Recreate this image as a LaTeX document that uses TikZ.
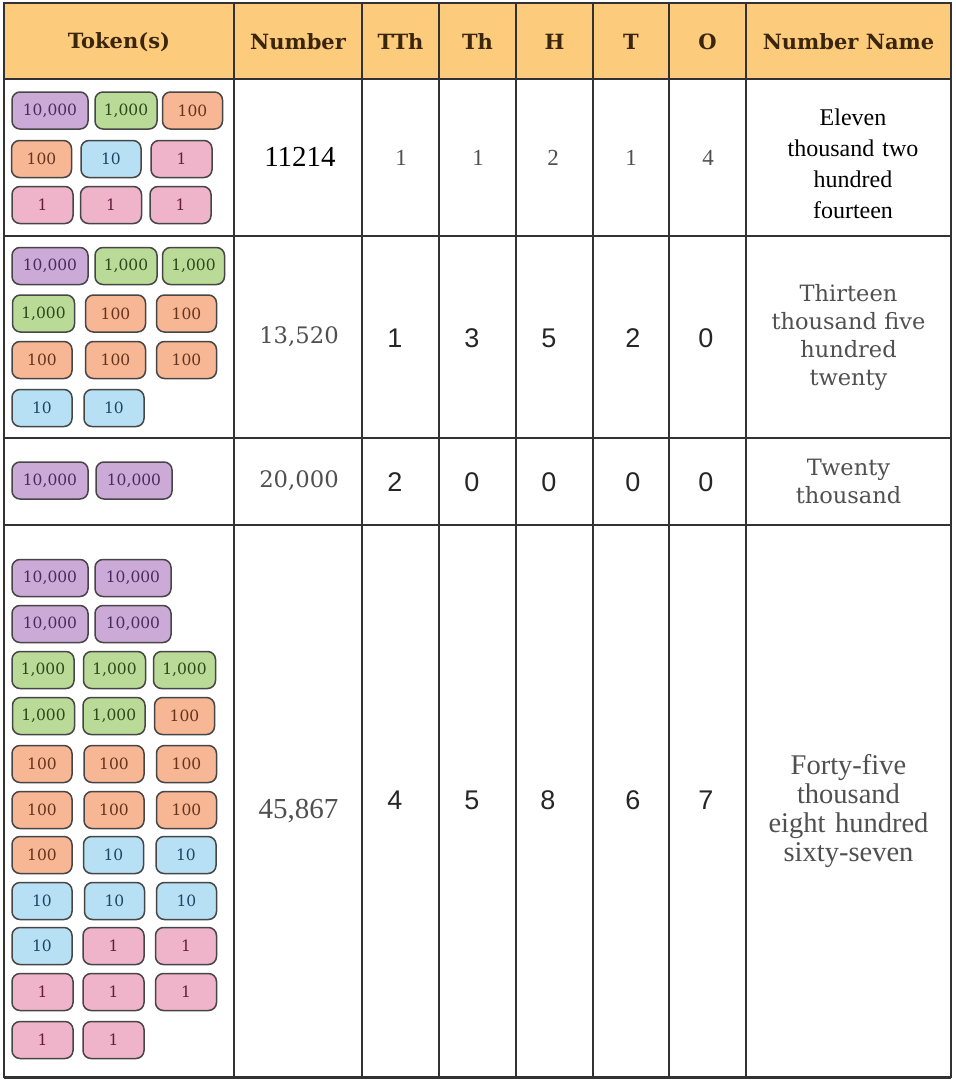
\documentclass[tikz,border=0pt]{standalone}
\usepackage{fontspec}
\setmainfont{Liberation Serif}
\newfontfamily\dvserif{DejaVu Serif}
\newfontfamily\lsans{Liberation Sans}
\definecolor{hdrfill}{RGB}{253,203,124}
\definecolor{hdrtext}{RGB}{58,38,14}
\definecolor{gridline}{RGB}{50,50,50}
\definecolor{chipline}{RGB}{70,70,70}
\definecolor{purpfill}{RGB}{204,170,216}
\definecolor{purptext}{RGB}{72,44,92}
\definecolor{grnfill}{RGB}{186,219,152}
\definecolor{grntext}{RGB}{44,72,28}
\definecolor{orfill}{RGB}{247,182,148}
\definecolor{ortext}{RGB}{100,52,28}
\definecolor{blfill}{RGB}{184,224,244}
\definecolor{bltext}{RGB}{28,70,100}
\definecolor{pkfill}{RGB}{240,180,202}
\definecolor{pktext}{RGB}{100,30,60}
\definecolor{graytext}{RGB}{80,80,80}
\tikzset{
  chip/.style={draw=chipline, line width=1.5pt, rounded corners=8pt, minimum height=37pt, inner sep=0pt, font=\dvserif\fontsize{15.5}{17}\selectfont},
  tokP/.style={chip, fill=purpfill, text=purptext, minimum width=76pt, node contents={10,000}},
  tokG/.style={chip, fill=grnfill, text=grntext, minimum width=62pt, node contents={1,000}},
  tokO/.style={chip, fill=orfill, text=ortext, minimum width=60pt, node contents={100}},
  tokB/.style={chip, fill=blfill, text=bltext, minimum width=60pt, node contents={10}},
  tokK/.style={chip, fill=pkfill, text=pktext, minimum width=61pt, node contents={1}},
  hdr/.style={font=\dvserif\bfseries\fontsize{21}{24}\selectfont, text=hdrtext, inner sep=0pt},
  grid/.style={draw=gridline, line width=1.8pt},
  numA/.style={font=\fontsize{29}{31}\selectfont, text=black, inner sep=0pt},
  digA/.style={font=\fontsize{23}{25}\selectfont, text=graytext, inner sep=0pt},
  nameA/.style={font=\fontsize{24}{31}\selectfont, align=center, text width=200pt, inner sep=0pt},
  numB/.style={font=\dvserif\fontsize{22.7}{25}\selectfont, text=graytext, inner sep=0pt},
  digB/.style={font=\lsans\fontsize{27}{29}\selectfont, text=black!85, inner sep=0pt},
  nameB/.style={font=\dvserif\fontsize{22.5}{28}\selectfont, text=graytext, align=center, text width=200pt, inner sep=0pt},
  numC/.style={font=\fontsize{29}{31}\selectfont, text=graytext, inner sep=0pt},
  nameC/.style={font=\fontsize{28.5}{29}\selectfont, text=graytext, align=center, text width=200pt, inner sep=0pt}
}
\begin{document}
\begin{tikzpicture}[x=1pt,y=-1pt]
\useasboundingbox (0,0) rectangle (956,1080);
\fill[white] (0,0) rectangle (956,1080);
% header band
\fill[hdrfill] (4,3) rectangle (951,79);
% grid
\draw[grid] (4,3) rectangle (951,1077);
\draw[grid] (4,79) -- (951,79);
\draw[grid] (4,236) -- (951,236);
\draw[grid] (4,438) -- (951,438);
\draw[grid] (4,525) -- (951,525);
\draw[grid, line width=3pt] (4,1077) -- (951,1077);
\foreach \cx in {234,362,439,516,593,669,746} \draw[grid] (\cx,3) -- (\cx,1077);
% header
\node[hdr] (hTok) at (119,42) {Token(s)};
\node[hdr] (hNum) at (298,42) {Number};
\node[hdr] (hTTh) at (400.5,42) {TTh};
\node[hdr] (hTh) at (477.5,42) {Th};
\node[hdr] (hH) at (554.5,42) {H};
\node[hdr] (hT) at (631,42) {T};
\node[hdr] (hO) at (707.5,42) {O};
\node[hdr] (hName) at (848.5,42) {Number Name};
% row 1 tokens
\node (a1) at (50,110.5) [tokP];
\node (a2) at (126,110.5) [tokG];
\node (a3) at (192.5,110.5) [tokO];
\node (a4) at (41.5,159) [tokO];
\node (a5) at (111,159) [tokB];
\node (a6) at (181.5,159) [tokK];
\node (a7) at (42.5,205) [tokK];
\node (a8) at (111,205) [tokK];
\node (a9) at (180.5,205) [tokK];
% row 1 values
\node[numA] (n1) at (300,157) {11214};
\node[digA] (d11) at (401,158) {1};
\node[digA] (d12) at (478,158) {1};
\node[digA] (d13) at (553,158) {2};
\node[digA] (d14) at (631,158) {1};
\node[digA] (d15) at (708,158) {4};
\node[nameA] (m1) at (853,164) {Eleven\\thousand two\\hundred\\fourteen};
% row 2 tokens
\node (b1) at (50,266) [tokP];
\node (b2) at (126,266) [tokG];
\node (b3) at (193.5,266) [tokG];
\node (b4) at (43.5,313.5) [tokG];
\node (b5) at (115.5,313.5) [tokO];
\node (b6) at (186.5,313.5) [tokO];
\node (b7) at (42,360) [tokO];
\node (b8) at (115.5,360) [tokO];
\node (b9) at (186.5,360) [tokO];
\node (b10) at (42,408) [tokB];
\node (b11) at (114,408) [tokB];
% row 2 values
\node[numB] (n2) at (299,337) {13,520};
\node[digB] (d21) at (395,338) {1};
\node[digB] (d22) at (472,338) {3};
\node[digB] (d23) at (549,338) {5};
\node[digB] (d24) at (633,338) {2};
\node[digB] (d25) at (706,338) {0};
\node[nameB] (m2) at (848.5,337) {Thirteen\\thousand five\\hundred\\twenty};
% row 3 tokens
\node (c1) at (50,480.5) [tokP];
\node (c2) at (134,480.5) [tokP];
% row 3 values
\node[numB] (n3) at (299,481) {20,000};
\node[digB] (d31) at (395,482) {2};
\node[digB] (d32) at (472,482) {0};
\node[digB] (d33) at (549,482) {0};
\node[digB] (d34) at (633,482) {0};
\node[digB] (d35) at (706,482) {0};
\node[nameB] (m3) at (848.5,481) {Twenty\\thousand};
% row 4 tokens
\node (e1) at (50,578) [tokP];
\node (e2) at (133,578) [tokP];
\node (e3) at (50,624) [tokP];
\node (e4) at (133,624) [tokP];
\node (e5) at (43,670) [tokG];
\node (e6) at (114.5,670) [tokG];
\node (e7) at (184.5,670) [tokG];
\node (e8) at (43.5,716) [tokG];
\node (e9) at (114,716) [tokG];
\node (e10) at (184.5,716) [tokO];
\node (e11) at (42,764) [tokO];
\node (e12) at (114,764) [tokO];
\node (e13) at (186.5,764) [tokO];
\node (e14) at (42,810) [tokO];
\node (e15) at (114,810) [tokO];
\node (e16) at (186.5,810) [tokO];
\node (e17) at (42,855) [tokO];
\node (e18) at (113.5,855) [tokB];
\node (e19) at (186,855) [tokB];
\node (e20) at (42,901) [tokB];
\node (e21) at (114.5,901) [tokB];
\node (e22) at (186.5,901) [tokB];
\node (e23) at (42,946) [tokB];
\node (e24) at (113.5,946) [tokK];
\node (e25) at (186,946) [tokK];
\node (e26) at (42.5,992) [tokK];
\node (e27) at (113.5,992) [tokK];
\node (e28) at (186,992) [tokK];
\node (e29) at (42.5,1040) [tokK];
\node (e30) at (113.5,1040) [tokK];
% row 4 values
\node[numC] (n4) at (298.5,811) {45,867};
\node[digB] (d41) at (395,800) {4};
\node[digB] (d42) at (472,800) {5};
\node[digB] (d43) at (548,800) {8};
\node[digB] (d44) at (633,800) {6};
\node[digB] (d45) at (706,800) {7};
\node[nameC] (m4) at (848.5,811) {Forty-five\\thousand\\eight hundred\\sixty-seven};
\end{tikzpicture}
\end{document}
